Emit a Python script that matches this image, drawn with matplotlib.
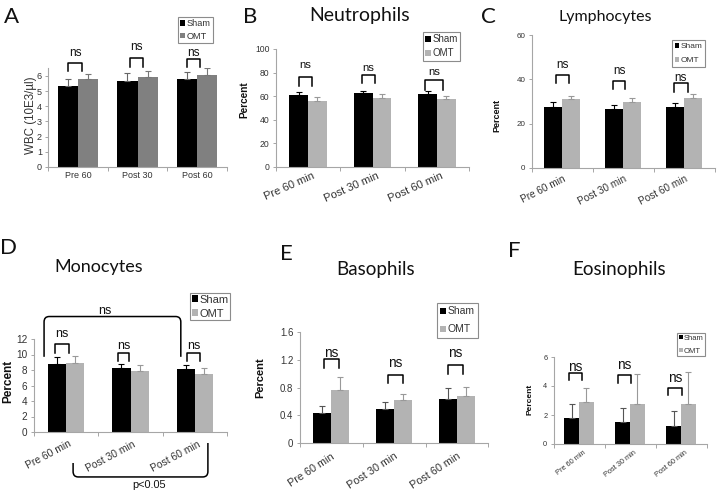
import matplotlib
matplotlib.use("Agg")
import matplotlib.pyplot as plt
import numpy as np
from matplotlib.patches import Patch, PathPatch
from matplotlib.path import Path
from matplotlib.transforms import ScaledTranslation

plt.rcParams['font.family'] = ['Liberation Sans', 'DejaVu Sans']

W, H = 718, 495

# ---------------- data ----------------
labels_A = ["Pre 60", "Post 30", "Post 60"]
labels_min = ["Pre 60 min", "Post 30 min", "Post 60 min"]
groups = ["Sham", "OMT"]

wbc_sham = [5.34, 5.69, 5.80]
wbc_sham_err = [0.46, 0.48, 0.44]
wbc_omt = [5.78, 5.95, 6.08]
wbc_omt_err = [0.35, 0.40, 0.44]

neut_sham = [61.0, 62.4, 61.6]
neut_sham_err = [2.3, 2.3, 2.8]
neut_omt = [56.2, 58.8, 57.6]
neut_omt_err = [2.8, 2.8, 2.8]

lymph_sham = [27.4, 26.5, 27.4]
lymph_sham_err = [2.5, 1.8, 1.8]
lymph_omt = [31.0, 29.6, 31.7]
lymph_omt_err = [1.5, 1.8, 1.5]

mono_sham = [8.8, 8.3, 8.1]
mono_sham_err = [0.9, 0.45, 0.6]
mono_omt = [8.95, 7.9, 7.45]
mono_omt_err = [0.9, 0.8, 0.75]

baso_sham = [0.43, 0.49, 0.63]
baso_sham_err = [0.10, 0.10, 0.16]
baso_omt = [0.77, 0.615, 0.68]
baso_omt_err = [0.18, 0.095, 0.13]

eos_sham = [1.76, 1.53, 1.25]
eos_sham_err = [0.98, 0.92, 1.03]
eos_omt = [2.90, 2.79, 2.79]
eos_omt_err = [0.98, 2.05, 2.16]

ns_text = "ns"
sig_text = "p<0.05"

SPINE = '#a6a6a6'
TXT = '#333333'

fig = plt.figure(figsize=(W / 100, H / 100), dpi=100)


def pax(l, r, top, bottom):
    return fig.add_axes([l / W, 1 - bottom / H, (r - l) / W, (bottom - top) / H])


def style(ax, ylim, yticks, yfs, xlabels, xfs, rot, pad, dx):
    for s in ['top', 'right']:
        ax.spines[s].set_visible(False)
    for s in ['left', 'bottom']:
        ax.spines[s].set_color(SPINE)
        ax.spines[s].set_linewidth(0.8)
    ax.set_ylim(*ylim)
    ax.set_xlim(-0.5, 2.5)
    ax.set_yticks(yticks)
    ax.tick_params(axis='y', length=2.5, width=0.7, color=SPINE, labelsize=yfs,
                   labelcolor=TXT, pad=2)
    ax.set_xticks([-0.5, 0.5, 1.5, 2.5])
    ax.set_xticklabels([])
    ax.tick_params(axis='x', which='major', length=3, width=0.7, color=SPINE)
    ax.set_xticks([0, 1, 2], xlabels, minor=True)
    ax.tick_params(axis='x', which='minor', length=0, labelsize=xfs,
                   labelcolor=TXT, pad=pad)
    if rot:
        off = ScaledTranslation(dx / 100, 0, fig.dpi_scale_trans)
        for t in ax.get_xticklabels(minor=True):
            t.set_rotation(rot)
            t.set_ha('right')
            t.set_va('top')
            t.set_rotation_mode('anchor')
            t.set_transform(t.get_transform() + off)
    ax.set_facecolor('none')


def bars(ax, sham, sham_err, omt, omt_err, w, omt_color, sham_ecol, omt_ecol, cap=2):
    x = np.arange(len(sham))
    ax.bar(x - w / 2, sham, w, color='black', edgecolor='none', zorder=2)
    ax.bar(x + w / 2, omt, w, color=omt_color, edgecolor='none', zorder=2)
    ax.errorbar(x - w / 2, sham, yerr=[np.zeros(len(sham)), sham_err], fmt='none',
                ecolor=sham_ecol, elinewidth=0.8, capsize=cap, capthick=0.8, zorder=3)
    ax.errorbar(x + w / 2, omt, yerr=[np.zeros(len(omt)), omt_err], fmt='none',
                ecolor=omt_ecol, elinewidth=0.8, capsize=cap, capthick=0.8, zorder=3)


def brackets(ax, specs, fs):
    # specs: (group, dx0, dx1, ytop, ybot, ytext)
    for g, a, b, yt, yb, ys in specs:
        ax.plot([g + a, g + a, g + b, g + b], [yb, yt, yt, yb], color='black', lw=1.1,
                clip_on=False, solid_joinstyle='round', zorder=4)
        ax.text(g + (a + b) / 2, ys, ns_text, ha='center', va='baseline', fontsize=fs,
                color='#111111', clip_on=False)


def legend_at(ax, x0, y0, fs, ls, bp, omt_color):
    h = [Patch(facecolor='black'), Patch(facecolor=omt_color)]
    leg = ax.legend(h, groups, loc='upper left', bbox_to_anchor=(x0 / W, 1 - y0 / H),
                    bbox_transform=fig.transFigure, borderaxespad=0, fontsize=fs,
                    frameon=True, fancybox=False, edgecolor='#8c8c8c', framealpha=1,
                    handlelength=0.55, handleheight=0.55, handletextpad=0.15,
                    labelspacing=ls, borderpad=bp)
    leg.get_frame().set_linewidth(0.8)
    for t in leg.get_texts():
        t.set_color(TXT)
    return leg


def letter(x, y, s):
    fig.text(x / W, 1 - y / H, s, ha='center', va='center', fontsize=16,
             family=['Lato', 'DejaVu Sans'], color='#111111')


def title(x, y, s, fs):
    fig.text(x / W, 1 - y / H, s, ha='center', va='baseline', fontsize=fs,
             family=['Lato', 'DejaVu Sans'], color='#111111')


def ylab(x, y, s, fs, bold=True):
    fig.text(x / W, 1 - y / H, s, ha='center', va='center', rotation=90, fontsize=fs,
             fontweight='bold' if bold else 'normal', color='#111111' if bold else TXT)


GRAY = '#808080'
LGRAY = '#b3b3b3'

# ---------------- A ----------------
axA = pax(48.25, 226.75, 167 - 6.5 * 15.17, 167)
bars(axA, wbc_sham, wbc_sham_err, wbc_omt, wbc_omt_err, 0.34, GRAY, '#666666', '#777777')
style(axA, (0, 6.5), range(0, 7), 6.5, labels_A, 6.5, 0, 3, 0)
brackets(axA, [(0, -0.16, 0.06, 6.88, 6.35, 7.32),
               (1, -0.12, 0.10, 7.16, 6.61, 7.71),
               (2, -0.16, 0.05, 7.10, 6.61, 7.32)], 8.5)
legend_at(axA, 178, 17, 6.6, 0.37, 0.24, GRAY)
ylab(31, 115, "WBC (10E3/\u00b5l)", 8.3, bold=False)
letter(12, 17, "A")

# ---------------- B ----------------
axB = pax(275.75, 469.25, 49, 167)
bars(axB, neut_sham, neut_sham_err, neut_omt, neut_omt_err, 0.29, LGRAY, 'black', '#999999')
style(axB, (0, 100), range(0, 101, 20), 6.2, labels_min, 8.0, 24, 3, 4)
brackets(axB, [(0, -0.14, 0.06, 76, 68.6, 83.6),
               (1, -0.17, 0.04, 78, 70.9, 81.4),
               (2, -0.19, 0.10, 73.7, 65, 78)], 8.2)
legend_at(axB, 423, 32, 7, 0.4, 0.25, LGRAY)
ylab(244, 100, "Percent", 7.2)
letter(250, 17, "B")
title(360, 21, "Neutrophils", 14)

# ---------------- C ----------------
axC = pax(531.5, 714.5, 35, 168)
bars(axC, lymph_sham, lymph_sham_err, lymph_omt, lymph_omt_err, 0.30, LGRAY, 'black', '#999999')
style(axC, (0, 60), range(0, 61, 20), 5.8, labels_min, 7.2, 27, 4, 1)
brackets(axC, [(0, -0.10, 0.11, 42, 38.2, 45),
               (1, -0.17, 0.04, 39.2, 35.5, 42.4),
               (2, -0.16, 0.06, 38.2, 34.4, 39.2)], 8.4)
legend_at(axC, 672, 40, 6, 0.77, 0.33, LGRAY)
ylab(497, 115, "Percent", 6.5)
letter(488, 17, "C")
title(605, 21, "Lymphocytes", 11.5)

# ---------------- D ----------------
axD = pax(33.75, 227.25, 339, 432)
bars(axD, mono_sham, mono_sham_err, mono_omt, mono_omt_err, 0.28, LGRAY, 'black', '#999999')
style(axD, (0, 12), range(0, 13, 2), 7.2, labels_min, 7.4, 28, 5, 2)
brackets(axD, [(0, -0.17, 0.04, 11.4, 10.2, 12.3),
               (1, -0.20, -0.02, 10.15, 9.2, 10.7),
               (2, -0.12, 0.08, 10.15, 9.2, 10.7)], 9)
legend_at(axD, 190, 293, 8, 0.37, 0.14, LGRAY)
ylab(8, 381, "Percent", 8.5)
letter(9, 248, "D")
title(99, 272, "Monocytes", 13)


def curved(ax, x0, x1, yline, yleft, yright, rx, ry):
    s = 1 if yleft < yline else -1
    verts = [(x0, yleft), (x0, yline - s * ry), (x0, yline), (x0 + rx, yline),
             (x1 - rx, yline), (x1, yline), (x1, yline - s * ry), (x1, yright)]
    codes = [Path.MOVETO, Path.LINETO, Path.CURVE3, Path.CURVE3,
             Path.LINETO, Path.CURVE3, Path.CURVE3, Path.LINETO]
    p = PathPatch(Path(verts, codes), fill=False, edgecolor='black', lw=1.1,
                  clip_on=False, zorder=4)
    ax.add_patch(p)


curved(axD, -0.34, 1.78, 14.9, 9.7, 9.7, 0.08, 0.7)
axD.text(0.6, 15.25, ns_text, ha='center', va='baseline', fontsize=9, clip_on=False,
         color='#111111')
curved(axD, 0.11, 2.2, -5.8, -4.0, -1.42, 0.08, 0.7)
axD.text(1.29, -7.27, sig_text, ha='center', va='baseline', fontsize=7.8, clip_on=False,
         color='#111111')

# ---------------- E ----------------
axE = pax(299.5, 488.5, 332, 443)
bars(axE, baso_sham, baso_sham_err, baso_omt, baso_omt_err, 0.29, LGRAY, '#555555', '#999999')
style(axE, (0, 1.6), [0, 0.4, 0.8, 1.2, 1.6], 6.9, labels_min, 7.8, 33, 6, 0)
axE.set_yticklabels(["0", "0.4", "0.8", "1.2", "1.6"])
brackets(axE, [(0, -0.11, 0.13, 1.21, 1.08, 1.245),
               (1, -0.10, 0.14, 0.98, 0.86, 1.09),
               (2, -0.14, 0.09, 1.12, 1.00, 1.245)], 9.8)
legend_at(axE, 437, 303, 7.5, 0.76, 0.33, LGRAY)
ylab(260, 378, "Percent", 8)
letter(286, 254, "E")
title(376, 275, "Basophils", 13.5)

# ---------------- F ----------------
axF = pax(553.5, 706.5, 357, 444)
bars(axF, eos_sham, eos_sham_err, eos_omt, eos_omt_err, 0.29, LGRAY, '#555555', '#999999')
style(axF, (0, 6), [0, 2, 4, 6], 5.3, labels_min, 5.3, 38, 4, 4)
brackets(axF, [(0, -0.19, 0.05, 4.93, 4.41, 5.02),
               (1, -0.23, 0.02, 4.76, 4.19, 5.15),
               (2, -0.25, 0.01, 3.88, 3.36, 4.27)], 9.8)
legend_at(axF, 677, 333, 5.5, 0.8, 0.2, LGRAY)
ylab(530, 399, "Percent", 6)
letter(514, 251, "F")
title(619, 275, "Eosinophils", 13.5)

fig.savefig("out.png", dpi=100, facecolor='white')
